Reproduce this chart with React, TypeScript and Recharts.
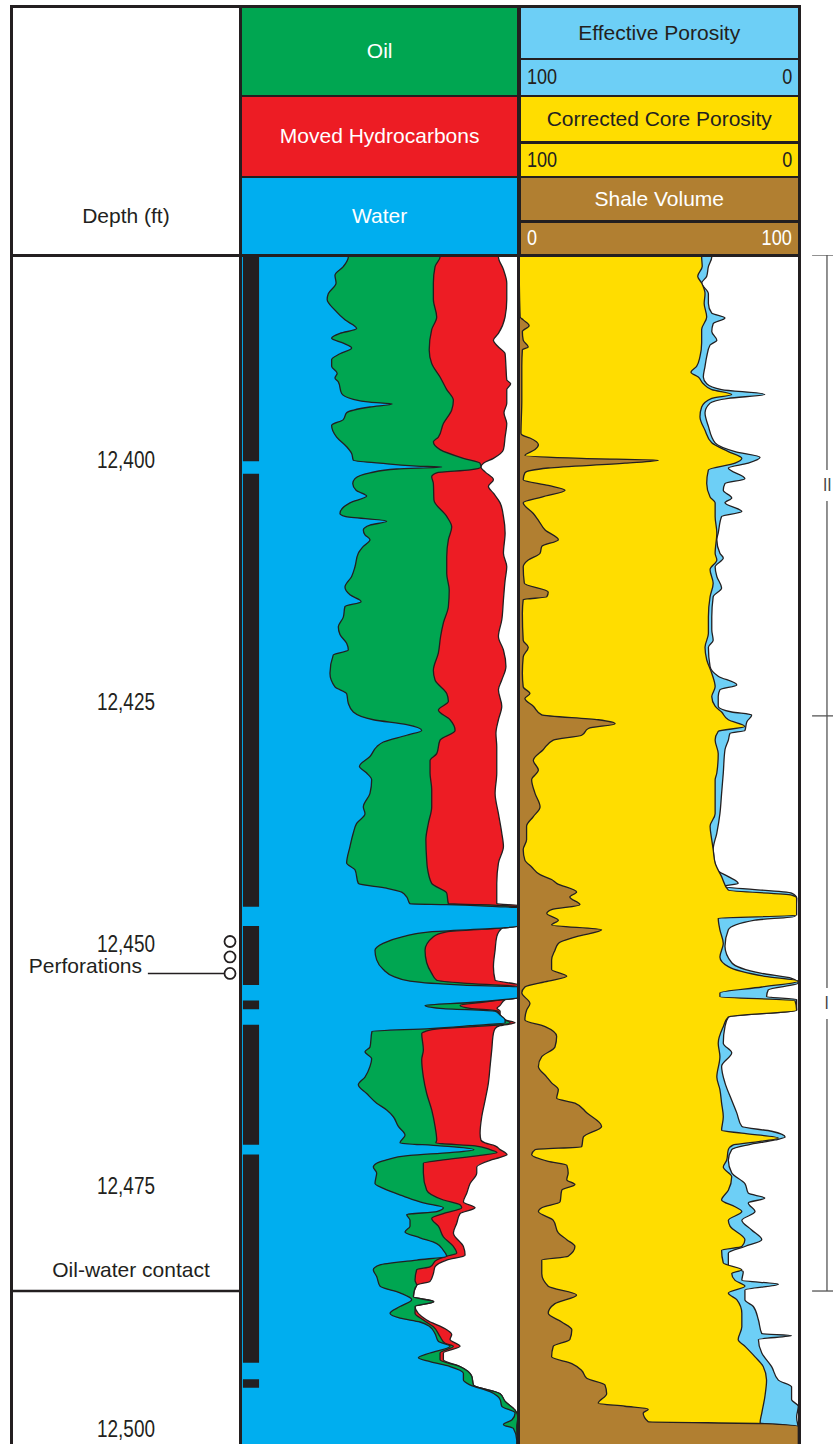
import React from 'react';
import {
  ComposedChart,
  Area,
  XAxis,
  YAxis,
  ReferenceArea,
  ReferenceLine,
  ReferenceDot,
} from 'recharts';

// depth window shown in the log (ft)
const TOP = 12378.8;
const BASE = 12501.6;
const depthTicks = [12400, 12425, 12450, 12475, 12500];

// track 1: boundaries of the fluid fills, % of track width from the left edge
// [depth, value]
const waterEdge: [number, number][] = [
  [12378.8, 38.6], [12379.0, 38.6], [12380.0, 36.8], [12380.9, 33.8], [12381.7, 34.2], [12382.8, 31.4],
  [12383.4, 31.0], [12384.5, 33.8], [12385.5, 37.4], [12386.4, 41.6], [12386.9, 35.6], [12387.4, 32.6],
  [12387.9, 36.8], [12388.4, 39.8], [12389.0, 35.6], [12389.6, 32.6], [12390.3, 32.6], [12391.0, 34.6],
  [12391.5, 33.8], [12391.9, 35.0], [12393.1, 36.2], [12393.7, 40.4], [12394.0, 46.4], [12394.2, 54.4],
  [12394.5, 46.4], [12395.1, 38.0], [12395.8, 36.8], [12396.4, 32.6], [12397.6, 34.4], [12398.6, 38.0],
  [12399.3, 39.8], [12400.0, 40.4], [12400.3, 50.0], [12400.6, 63.2], [12400.7, 72.2], [12400.9, 56.0],
  [12401.3, 46.4], [12401.9, 41.0], [12402.4, 40.2], [12403.1, 41.4], [12403.7, 45.2], [12404.4, 39.2],
  [12405.5, 35.6], [12405.8, 37.4], [12406.3, 52.4], [12406.7, 46.4], [12407.2, 44.0], [12407.7, 44.6],
  [12408.2, 46.4], [12408.9, 44.0], [12409.6, 42.2], [12411.0, 41.0], [12412.0, 39.8], [12413.1, 37.4],
  [12413.9, 39.2], [12414.6, 43.2], [12415.1, 37.4], [12416.2, 36.8], [12417.2, 35.0], [12418.0, 35.6],
  [12418.9, 38.0], [12419.6, 38.6], [12420.1, 33.2], [12422.0, 32.0], [12423.4, 33.8], [12424.1, 38.0],
  [12425.1, 38.6], [12426.0, 40.4], [12426.8, 47.6], [12427.3, 59.6], [12427.9, 65.0], [12428.4, 59.6],
  [12429.1, 51.2], [12429.6, 48.8], [12430.6, 46.4], [12431.6, 42.6], [12432.3, 45.2], [12433.0, 47.0],
  [12434.4, 46.4], [12435.8, 44.0], [12436.5, 44.6], [12437.5, 41.6], [12438.5, 40.4], [12439.9, 39.2],
  [12441.6, 38.0], [12442.3, 41.0], [12443.7, 42.2], [12444.2, 52.4], [12444.6, 57.8], [12445.1, 59.6],
  [12445.8, 60.8], [12445.9, 74.0], [12446.1, 92.0], [12446.2, 100], [12448.1, 100], [12448.3, 94.2],
  [12448.7, 68.0], [12449.2, 58.3], [12449.9, 51.1], [12450.6, 48.2], [12451.6, 48.8], [12452.6, 51.2],
  [12453.3, 54.8], [12453.8, 60.8], [12454.2, 79.9], [12454.4, 100], [12455.5, 100], [12455.7, 94.2],
  [12456.0, 82.4], [12456.3, 66.2], [12456.6, 71.6], [12456.9, 91.4], [12457.3, 93.2], [12457.8, 95.0],
  [12458.1, 95.0], [12458.4, 82.4], [12458.7, 68.0], [12459.0, 47.1], [12460.6, 46.4], [12461.1, 44.6],
  [12461.8, 47.0], [12462.6, 46.4], [12463.7, 44.6], [12464.5, 42.2], [12465.4, 45.2], [12466.4, 48.8],
  [12467.1, 52.4], [12467.8, 54.8], [12468.8, 56.6], [12469.7, 59.0], [12470.5, 57.2], [12470.8, 71.6],
  [12471.2, 83.8], [12471.5, 75.2], [12471.8, 60.8], [12472.3, 51.8], [12472.6, 48.8], [12473.0, 47.6],
  [12473.6, 48.8], [12474.7, 48.2], [12475.2, 51.2], [12476.0, 58.4], [12476.7, 65.6], [12477.2, 72.8],
  [12477.6, 70.4], [12477.9, 59.6], [12478.5, 60.8], [12479.1, 60.8], [12479.7, 59.0], [12480.3, 64.4],
  [12480.9, 70.4], [12481.6, 72.8], [12482.2, 74.0], [12482.6, 63.2], [12483.1, 50.0], [12483.6, 47.6],
  [12484.3, 48.8], [12485.3, 50.0], [12486.0, 57.2], [12486.7, 61.4], [12487.4, 57.2], [12488.1, 53.6],
  [12488.6, 57.2], [12489.0, 64.4], [12489.5, 68.0], [12490.2, 69.8], [12491.0, 71.0], [12491.5, 75.2],
  [12492.2, 68.0], [12492.7, 63.8], [12493.1, 68.0], [12493.6, 75.2], [12494.3, 80.0], [12495.0, 80.0],
  [12495.5, 82.4], [12496.2, 89.6], [12497.0, 93.2], [12497.7, 93.8], [12498.4, 98.6], [12499.1, 97.5],
  [12499.6, 94.4], [12500.0, 98.0], [12501.2, 99.2], [12501.6, 99.2],
];

const oilEdge: [number, number][] = [
  [12378.8, 71.6], [12379.0, 71.6], [12380.0, 69.8], [12381.7, 69.2], [12383.4, 69.2], [12385.2, 70.4],
  [12386.5, 68.6], [12388.6, 67.7], [12390.0, 68.6], [12391.4, 71.6], [12392.7, 74.0], [12393.8, 76.4],
  [12394.8, 75.8], [12396.2, 72.8], [12397.6, 71.0], [12398.1, 69.2], [12398.9, 71.6], [12399.8, 80.0],
  [12400.3, 86.0], [12400.7, 86.3], [12401.0, 82.4], [12401.3, 70.4], [12401.7, 68.6], [12402.4, 69.2],
  [12404.1, 69.4], [12405.8, 74.0], [12406.9, 75.8], [12408.2, 74.6], [12410.0, 74.0], [12411.7, 74.0],
  [12413.4, 74.9], [12415.1, 74.6], [12416.8, 72.8], [12418.2, 71.8], [12419.9, 71.0], [12421.7, 69.2],
  [12422.7, 69.8], [12424.1, 74.0], [12424.9, 74.6], [12425.8, 71.0], [12426.8, 75.2], [12427.9, 77.0],
  [12428.9, 71.6], [12430.3, 70.4], [12431.0, 68.0], [12432.3, 68.0], [12434.0, 68.6], [12435.8, 68.6],
  [12437.5, 67.4], [12439.2, 66.5], [12441.3, 66.8], [12442.0, 67.0], [12443.7, 68.6], [12444.7, 74.0],
  [12445.8, 74.6], [12445.9, 86.0], [12446.1, 99.2], [12446.2, 100], [12448.1, 100], [12448.3, 94.2],
  [12448.7, 74.0], [12449.2, 69.2], [12450.6, 66.2], [12451.9, 66.8], [12453.0, 68.6], [12453.7, 70.4],
  [12454.0, 80.0], [12454.3, 97.8], [12454.4, 100], [12455.5, 100], [12455.7, 94.2], [12456.0, 86.0],
  [12456.3, 78.8], [12456.6, 82.4], [12456.9, 92.4], [12457.3, 93.2], [12457.8, 95.0], [12458.1, 96.8],
  [12458.4, 89.6], [12458.7, 71.6], [12459.0, 66.2], [12459.2, 65.0], [12460.9, 65.6], [12461.9, 65.0],
  [12463.7, 65.6], [12465.4, 66.8], [12467.1, 68.6], [12468.8, 69.8], [12470.2, 70.4], [12470.5, 70.1],
  [12470.8, 84.2], [12471.2, 89.6], [12471.5, 92.1], [12471.8, 86.0], [12472.3, 71.6], [12472.6, 65.6],
  [12473.6, 65.6], [12475.4, 66.8], [12476.4, 72.8], [12476.9, 78.8], [12477.2, 79.4], [12477.8, 72.8],
  [12478.3, 68.6], [12479.1, 71.0], [12480.2, 72.8], [12481.2, 76.4], [12481.9, 77.6], [12482.2, 74.0],
  [12482.6, 70.4], [12483.3, 68.0], [12483.6, 63.2], [12484.7, 62.6], [12485.2, 63.2], [12485.5, 62.6],
  [12486.4, 62.0], [12486.9, 69.2], [12487.4, 62.6], [12488.1, 62.6], [12488.8, 65.6], [12489.5, 69.2],
  [12490.5, 71.6], [12491.2, 73.4], [12491.5, 76.4], [12492.2, 71.6], [12492.9, 71.6], [12493.6, 78.8],
  [12494.6, 83.0], [12495.5, 83.6], [12496.4, 93.2], [12497.2, 95.0], [12498.1, 98.6], [12498.8, 99.6],
  [12499.8, 99.2], [12501.2, 99.3], [12501.6, 99.3],
];

const movedEdge: [number, number][] = [
  [12378.8, 92.6], [12379.0, 92.6], [12380.3, 94.4], [12381.7, 95.6], [12383.4, 95.6], [12385.2, 95.0],
  [12386.9, 92.6], [12387.6, 90.8], [12388.3, 92.6], [12389.0, 95.0], [12390.3, 95.3], [12391.7, 95.6],
  [12392.1, 97.0], [12392.7, 95.6], [12394.1, 95.6], [12395.1, 94.6], [12396.2, 95.6], [12397.6, 95.0],
  [12398.9, 94.4], [12399.8, 90.8], [12400.3, 87.2], [12400.7, 86.3], [12401.2, 87.8], [12402.0, 90.8],
  [12402.7, 89.0], [12403.4, 90.8], [12404.4, 93.2], [12405.8, 94.4], [12407.5, 95.0], [12409.6, 94.4],
  [12411.0, 95.6], [12412.4, 95.0], [12414.4, 94.4], [12416.5, 93.8], [12418.2, 92.6], [12419.6, 94.4],
  [12421.3, 95.3], [12422.7, 93.8], [12423.7, 92.6], [12425.4, 93.8], [12426.8, 92.6], [12428.2, 91.7],
  [12429.6, 92.0], [12432.3, 92.0], [12434.4, 91.4], [12436.5, 92.6], [12438.5, 93.8], [12439.9, 94.4],
  [12441.6, 92.6], [12443.7, 92.0], [12445.8, 92.0], [12446.0, 100], [12448.1, 100], [12448.2, 94.4],
  [12449.2, 92.0], [12450.6, 91.4], [12452.3, 90.8], [12453.7, 91.4], [12454.2, 100], [12455.5, 100],
  [12455.7, 95.0], [12456.3, 93.2], [12456.6, 92.1], [12456.9, 93.2], [12457.3, 93.2], [12457.8, 95.0],
  [12458.1, 98.6], [12458.4, 93.2], [12458.7, 91.4], [12459.2, 90.8], [12460.9, 90.2], [12462.6, 89.6],
  [12464.3, 89.0], [12466.1, 87.8], [12467.8, 86.6], [12469.5, 86.0], [12470.2, 86.3], [12470.5, 87.8],
  [12470.8, 91.4], [12471.2, 93.2], [12471.5, 95.0], [12471.7, 95.7], [12472.0, 93.2], [12472.3, 89.6],
  [12473.0, 84.8], [12473.6, 84.8], [12474.7, 82.4], [12475.7, 81.2], [12476.6, 80.0], [12477.2, 84.2],
  [12477.8, 78.8], [12478.8, 77.6], [12479.8, 76.4], [12481.2, 80.0], [12482.1, 80.6], [12482.6, 74.0],
  [12483.3, 69.8], [12484.0, 69.2], [12484.8, 68.0], [12485.2, 63.2], [12486.4, 62.0], [12486.9, 69.4],
  [12487.4, 62.6], [12488.8, 66.8], [12489.8, 74.0], [12490.3, 75.8], [12490.8, 75.2], [12491.5, 78.8],
  [12492.2, 72.8], [12492.9, 72.8], [12493.6, 78.8], [12494.6, 83.0], [12495.5, 83.6], [12496.4, 93.2],
  [12497.2, 95.0], [12498.1, 98.6], [12498.8, 99.6], [12499.8, 99.2], [12501.2, 99.3], [12501.6, 99.3],
];

// track 2: shale volume (%, 0 at left) and porosities (%, 100 at left)
const shaleVolume: [number, number][] = [
  [12378.8, 0], [12385.2, 0.4], [12385.5, 1.5], [12386.1, 3.6], [12386.7, 1.2], [12387.6, 1.5],
  [12388.3, 3.3], [12388.6, 1.2], [12390.3, 1.0], [12393.8, 1.0], [12397.2, 0.7], [12397.4, 1.2],
  [12397.7, 3.9], [12398.4, 6.9], [12398.9, 5.7], [12399.5, 2.1], [12399.8, 22.3], [12400.0, 49.6],
  [12400.3, 37.7], [12400.8, 10.4], [12401.3, 2.1], [12402.0, 1.5], [12402.6, 10.4], [12403.1, 16.4],
  [12403.8, 8.1], [12404.4, 1.5], [12405.5, 5.1], [12406.2, 6.9], [12407.2, 9.3], [12408.2, 14.0],
  [12408.9, 8.1], [12409.6, 7.5], [12410.3, 3.3], [12411.0, 1.5], [12412.7, 1.9], [12413.6, 10.4],
  [12414.1, 9.9], [12414.4, 1.5], [12415.8, 1.2], [12418.6, 1.5], [12419.3, 3.3], [12420.3, 1.5],
  [12422.0, 1.2], [12423.4, 1.5], [12424.1, 3.9], [12424.6, 2.1], [12425.4, 5.1], [12426.3, 8.1],
  [12426.8, 28.2], [12427.2, 34.2], [12427.7, 24.7], [12428.4, 22.3], [12428.9, 12.2], [12429.9, 8.6],
  [12431.0, 5.1], [12432.0, 6.9], [12433.0, 4.5], [12434.4, 5.7], [12435.8, 7.5], [12436.8, 5.1],
  [12437.8, 2.7], [12439.2, 2.7], [12440.2, 1.5], [12441.3, 2.1], [12442.0, 4.5], [12442.8, 7.5],
  [12443.3, 11.6], [12443.7, 13.4], [12444.6, 20.5], [12445.1, 18.1], [12445.9, 21.7], [12446.4, 11.6],
  [12446.8, 9.9], [12447.5, 14.0], [12448.0, 11.6], [12448.5, 29.4], [12449.2, 20.5], [12449.9, 14.0],
  [12450.6, 12.8], [12451.6, 11.6], [12452.6, 11.6], [12453.3, 17.0], [12453.8, 10.4], [12454.4, 2.1],
  [12455.0, 1.0], [12456.1, 3.9], [12456.8, 2.7], [12457.8, 2.1], [12458.5, 9.3], [12459.5, 13.4],
  [12460.6, 12.8], [12461.6, 8.1], [12462.6, 6.9], [12463.7, 9.9], [12464.3, 11.6], [12465.0, 14.0],
  [12465.9, 13.4], [12466.4, 19.9], [12467.4, 24.1], [12468.8, 29.4], [12469.9, 22.9], [12470.9, 22.3],
  [12471.2, 5.7], [12471.7, 4.5], [12472.4, 10.4], [12472.8, 17.0], [12473.6, 17.5], [12474.3, 17.0],
  [12474.8, 19.9], [12475.4, 15.2], [12476.6, 14.6], [12477.2, 8.1], [12477.6, 6.9], [12478.5, 12.2],
  [12479.8, 14.0], [12480.5, 17.0], [12481.2, 19.9], [12482.2, 17.5], [12482.6, 8.1], [12484.0, 8.1],
  [12485.3, 10.4], [12486.2, 20.5], [12487.1, 12.8], [12488.1, 10.4], [12489.0, 15.2], [12489.8, 18.8],
  [12490.8, 18.1], [12491.5, 12.2], [12492.6, 11.6], [12493.3, 18.8], [12494.0, 22.3], [12494.8, 24.1],
  [12495.5, 30.6], [12496.4, 31.2], [12497.4, 28.2], [12497.7, 37.7], [12498.0, 46.0], [12498.4, 44.2],
  [12499.3, 46.0], [12499.5, 87.5], [12499.8, 99.4], [12501.6, 99.4],
];

const corePorosity: [number, number][] = [
  [12378.8, 35.0], [12379.0, 35.0], [12380.0, 34.8], [12381.0, 36.4], [12381.7, 35.0], [12382.8, 33.8],
  [12383.8, 34.1], [12385.2, 33.2], [12386.5, 35.0], [12387.9, 35.0], [12389.3, 35.6], [12390.3, 36.8],
  [12390.9, 38.8], [12391.4, 36.2], [12392.1, 34.4], [12392.7, 31.4], [12393.2, 24.3], [12393.6, 31.4],
  [12394.5, 35.0], [12395.5, 35.6], [12396.9, 33.8], [12398.2, 31.4], [12399.1, 25.5], [12399.8, 20.7],
  [12400.3, 23.1], [12401.0, 32.6], [12402.4, 33.2], [12403.8, 32.0], [12404.4, 30.2], [12405.8, 30.2],
  [12407.5, 29.6], [12409.6, 30.2], [12410.3, 29.6], [12411.3, 32.0], [12412.7, 30.9], [12414.1, 32.0],
  [12416.2, 32.6], [12417.9, 32.6], [12419.3, 33.8], [12420.6, 33.2], [12422.0, 31.4], [12423.4, 30.2],
  [12424.4, 31.4], [12425.4, 30.2], [12426.0, 27.9], [12426.8, 25.5], [12427.5, 19.6], [12428.0, 29.1],
  [12428.9, 30.2], [12430.3, 29.1], [12432.3, 29.6], [12433.0, 30.2], [12436.5, 30.2], [12437.8, 32.0],
  [12439.2, 31.4], [12440.2, 30.9], [12441.6, 30.2], [12443.0, 27.9], [12444.4, 25.5], [12444.9, 3.0],
  [12445.2, 1.2], [12447.0, 1.2], [12447.3, 29.1], [12448.5, 28.5], [12449.9, 27.3], [12451.3, 28.5],
  [12452.3, 25.5], [12453.3, 12.5], [12453.8, 0.6], [12454.4, 13.6], [12455.0, 28.5], [12455.4, 28.5],
  [12455.8, 1.8], [12456.8, 1.2], [12457.5, 25.5], [12458.5, 27.3], [12460.2, 29.1], [12461.6, 28.5],
  [12463.7, 29.6], [12465.0, 28.5], [12466.4, 27.9], [12467.8, 27.3], [12469.2, 27.9], [12469.5, 20.7],
  [12470.0, 7.7], [12470.5, 18.4], [12470.7, 23.7], [12471.2, 25.5], [12472.3, 26.1], [12473.0, 27.3],
  [12474.0, 24.3], [12475.4, 25.5], [12476.4, 27.9], [12477.1, 23.1], [12477.6, 20.7], [12478.5, 25.5],
  [12479.1, 24.9], [12480.5, 19.6], [12481.2, 20.7], [12481.6, 27.9], [12482.9, 27.3], [12483.6, 20.7],
  [12484.0, 24.3], [12484.7, 23.1], [12485.3, 19.6], [12486.0, 25.5], [12486.7, 22.5], [12488.1, 20.7],
  [12489.5, 20.7], [12490.8, 22.0], [12491.5, 19.6], [12492.6, 16.0], [12493.6, 13.1], [12495.0, 11.9],
  [12496.7, 12.5], [12498.4, 13.6], [12499.4, 14.2], [12499.8, 0.7], [12501.6, 0.7],
];

const effPorosity: [number, number][] = [
  [12378.8, 31.4], [12379.0, 31.4], [12380.0, 32.6], [12381.0, 33.2], [12381.7, 35.0], [12382.8, 32.6],
  [12383.8, 32.6], [12384.8, 31.4], [12385.3, 26.7], [12385.9, 30.9], [12386.7, 31.4], [12387.6, 29.6],
  [12388.1, 32.0], [12389.3, 33.2], [12390.3, 33.8], [12391.4, 34.4], [12392.1, 33.2], [12392.7, 27.9],
  [12393.2, 12.5], [12393.6, 25.5], [12394.1, 32.0], [12395.1, 33.8], [12396.5, 32.6], [12398.2, 30.2],
  [12399.1, 23.1], [12399.7, 14.2], [12400.3, 18.4], [12400.8, 25.5], [12401.9, 19.6], [12402.4, 26.7],
  [12403.1, 27.3], [12403.9, 24.3], [12404.4, 26.7], [12405.3, 20.7], [12405.8, 27.9], [12407.5, 29.1],
  [12408.2, 29.6], [12409.6, 28.5], [12410.1, 27.3], [12411.0, 30.2], [12412.0, 29.6], [12413.2, 27.9],
  [12414.1, 30.9], [12416.2, 31.4], [12417.5, 31.4], [12418.6, 30.9], [12419.3, 32.6], [12421.3, 32.0],
  [12422.3, 29.1], [12423.2, 22.5], [12423.7, 28.5], [12424.4, 29.1], [12425.4, 29.1], [12426.0, 24.3],
  [12426.3, 17.2], [12427.0, 18.9], [12427.9, 19.6], [12428.2, 24.9], [12428.9, 25.5], [12429.9, 26.7],
  [12432.3, 27.3], [12434.4, 27.9], [12436.5, 28.5], [12438.5, 29.6], [12440.2, 30.9], [12442.3, 29.6],
  [12443.0, 25.5], [12443.7, 22.0], [12444.0, 27.3], [12444.7, 3.0], [12445.2, 1.2], [12447.1, 1.8],
  [12447.5, 16.0], [12448.5, 25.5], [12450.2, 26.7], [12451.9, 24.3], [12453.0, 13.6], [12453.5, 3.0],
  [12454.0, 0.6], [12454.7, 11.3], [12455.4, 11.9], [12455.7, 1.2], [12456.8, 1.2], [12457.5, 25.5],
  [12458.5, 26.7], [12460.2, 27.3], [12461.2, 24.3], [12462.6, 27.9], [12464.3, 26.7], [12466.1, 24.3],
  [12467.4, 22.5], [12468.8, 20.7], [12469.3, 10.1], [12469.9, 5.3], [12470.2, 8.9], [12470.7, 18.4],
  [12471.2, 24.3], [12472.3, 25.5], [12473.6, 24.3], [12474.7, 19.6], [12475.7, 18.4], [12476.2, 12.5],
  [12476.7, 18.4], [12477.6, 16.0], [12478.5, 20.7], [12479.5, 17.2], [12480.5, 13.6], [12481.2, 19.6],
  [12481.9, 25.5], [12483.3, 25.5], [12483.8, 20.2], [12484.7, 20.7], [12485.1, 7.7], [12485.7, 19.6],
  [12486.7, 19.6], [12487.4, 16.6], [12488.8, 14.8], [12490.2, 13.6], [12490.4, 3.0], [12490.8, 14.8],
  [12492.2, 13.6], [12493.6, 10.1], [12495.0, 7.7], [12495.7, 3.0], [12497.0, 3.0], [12497.7, 0.6],
  [12498.8, 1.2], [12500.1, 0.6], [12501.6, 0.6],
];

// cored intervals (black column), [top, bottom]
const coreIntervals: [number, number][] = [
  [12378.8, 12400.1], [12401.4, 12446.1], [12448.1, 12454.2], [12455.8, 12456.7],
  [12458.3, 12470.7], [12471.7, 12493.2], [12494.9, 12495.8],
];
const perforations = [12449.7, 12451.3, 12453.0];
const oilWaterContact = 12485.8;
const zoneBounds = [12378.8, 12426.4, 12485.8];
const zoneNames = ['II', 'I'];

const INK = '#231f20';
const GREEN = '#00a651';
const RED = '#ed1c24';
const WATER = '#00aeef';
const LIGHT_BLUE = '#6dcff6';
const YELLOW = '#ffdd00';
const BROWN = '#b17f31';
const SANS = "'Liberation Sans', Arial, sans-serif";

const PLOT_TOP = 255;
const PLOT_H = 1189;
const yOf = (d: number) => PLOT_TOP + ((d - TOP) / (BASE - TOP)) * PLOT_H;
const rows = (pts: [number, number][]) => pts.map(([d, v]) => ({ d, v }));

// depth labels are set in a condensed face; squeeze the regular one to match
const DepthTick = (props: any) => {
  const { x, y, payload } = props;
  return (
    <text
      x={x - 115}
      y={y}
      textAnchor="middle"
      dominantBaseline="central"
      fontFamily={SANS}
      fontSize={23}
      fill={INK}
      textLength={58}
      lengthAdjust="spacingAndGlyphs"
    >
      {Number(payload.value).toLocaleString('en-US')}
    </text>
  );
};

const box = (left: number, top: number, width: number, height: number): React.CSSProperties => ({
  position: 'absolute',
  left,
  top,
  width,
  height,
});

const HeadCell = ({ l, t, w, h, bg, color, children }: any) => (
  <div
    style={{
      ...box(l, t, w, h),
      background: bg,
      color,
      display: 'flex',
      alignItems: 'center',
      justifyContent: 'center',
      fontFamily: SANS,
      fontSize: 21,
    }}
  >
    {children}
  </div>
);

const narrow: React.CSSProperties = { display: 'inline-block', transform: 'scaleX(0.82)' };

const ScaleCell = ({ t, h, bg, color, left, right }: any) => (
  <div
    style={{
      ...box(520.5, t, 277.5, h),
      background: bg,
      color,
      display: 'flex',
      alignItems: 'center',
      justifyContent: 'space-between',
      padding: '0 6px',
      boxSizing: 'border-box',
      fontFamily: SANS,
      fontSize: 22,
    }}
  >
    <span style={{ ...narrow, transformOrigin: 'left center' }}>{left}</span>
    <span style={{ ...narrow, transformOrigin: 'right center' }}>{right}</span>
  </div>
);

const areaProps = {
  type: 'monotone' as const,
  dataKey: 'v',
  stroke: INK,
  strokeWidth: 1.3,
  fillOpacity: 1,
  dot: false,
  activeDot: false,
  isAnimationActive: false,
};

export default function App() {
  return (
    <div style={{ position: 'relative', width: 833, height: 1444, overflow: 'hidden', background: '#fff' }}>
      <style>{'body{margin:0;}'}</style>

      {/* header */}
      <div style={{ ...box(10, 5, 791, 251.5), background: INK }} />
      <HeadCell l={12.8} t={7.5} w={226.2} h={246} bg="#fff" color={INK}>
        <span style={{ position: 'absolute', top: 196 }}>Depth (ft)</span>
      </HeadCell>
      <HeadCell l={242} t={7.5} w={275.3} h={87} bg={GREEN} color="#fff">Oil</HeadCell>
      <HeadCell l={242} t={97} w={275.3} h={78.5} bg={RED} color="#fff">Moved Hydrocarbons</HeadCell>
      <HeadCell l={242} t={178} w={275.3} h={75.5} bg={WATER} color="#fff">Water</HeadCell>
      <HeadCell l={520.5} t={7.5} w={277.5} h={50} bg={LIGHT_BLUE} color={INK}>Effective Porosity</HeadCell>
      <ScaleCell t={60} h={34.5} bg={LIGHT_BLUE} color={INK} left="100" right="0" />
      <HeadCell l={520.5} t={97} w={277.5} h={44} bg={YELLOW} color={INK}>Corrected Core Porosity</HeadCell>
      <ScaleCell t={143.5} h={32} bg={YELLOW} color={INK} left="100" right="0" />
      <HeadCell l={520.5} t={178} w={277.5} h={42} bg={BROWN} color="#fff">Shale Volume</HeadCell>
      <ScaleCell t={222.5} h={31} bg={BROWN} color="#fff" left="0" right="100" />

      {/* depth column + fluid track */}
      <div style={{ position: 'absolute', left: 10, top: PLOT_TOP }}>
        <ComposedChart layout="vertical" width={509} height={PLOT_H} margin={{ top: 0, right: 0, bottom: 0, left: 0 }}>
          <XAxis type="number" domain={[0, 100]} allowDataOverflow hide />
          <YAxis
            type="number"
            dataKey="d"
            domain={[TOP, BASE]}
            allowDataOverflow
            ticks={depthTicks}
            interval={0}
            width={231}
            axisLine={false}
            tickLine={false}
            tickSize={0}
            tickMargin={0}
            tick={(p: any) => <DepthTick {...p} />}
          />
          <Area {...areaProps} data={rows(movedEdge)} fill={RED} />
          <Area {...areaProps} data={rows(oilEdge)} fill={GREEN} />
          <Area {...areaProps} data={rows(waterEdge)} fill={WATER} />
          {coreIntervals.map(([a, b]) => (
            <ReferenceArea key={a} x1={0.7} x2={6.5} y1={a} y2={b} fill={INK} fillOpacity={1} stroke="none" />
          ))}
          <ReferenceLine
            segment={[{ x: -83.1, y: oilWaterContact }, { x: 0, y: oilWaterContact }]}
            stroke={INK}
            strokeWidth={2.5}
            ifOverflow="visible"
          />
          <ReferenceLine
            segment={[{ x: -33.5, y: perforations[2] }, { x: -5.9, y: perforations[2] }]}
            stroke={INK}
            strokeWidth={1.5}
            ifOverflow="visible"
          />
          {perforations.map((d) => (
            <ReferenceDot key={d} x={-3.96} y={d} r={5.5} fill="#fff" stroke={INK} strokeWidth={1.8} ifOverflow="visible" />
          ))}
        </ComposedChart>
      </div>

      {/* porosity / shale track + zones */}
      <div style={{ position: 'absolute', left: 519, top: PLOT_TOP }}>
        <ComposedChart layout="vertical" width={314} height={PLOT_H} margin={{ top: 0, right: 33, bottom: 0, left: 0 }}>
          <XAxis xAxisId="vsh" type="number" domain={[0, 100]} allowDataOverflow hide />
          <XAxis xAxisId="phi" type="number" domain={[0, 100]} reversed allowDataOverflow hide />
          <YAxis type="number" dataKey="d" domain={[TOP, BASE]} allowDataOverflow hide />
          <Area {...areaProps} xAxisId="phi" baseValue={100} data={rows(effPorosity)} fill={LIGHT_BLUE} />
          <Area {...areaProps} xAxisId="phi" baseValue={100} data={rows(corePorosity)} fill={YELLOW} />
          <Area {...areaProps} xAxisId="vsh" data={rows(shaleVolume)} fill={BROWN} />
          {zoneBounds.map((d) => (
            <ReferenceLine
              key={d}
              xAxisId="vsh"
              segment={[{ x: 104.3, y: d }, { x: 112, y: d }]}
              stroke="#555"
              strokeWidth={1.3}
              ifOverflow="visible"
            />
          ))}
          {zoneNames.map((_, i) => {
            const mid = (zoneBounds[i] + zoneBounds[i + 1]) / 2;
            return (
              <React.Fragment key={i}>
                <ReferenceLine
                  xAxisId="vsh"
                  segment={[{ x: 109.6, y: zoneBounds[i] }, { x: 109.6, y: mid - 1.6 }]}
                  stroke="#555"
                  strokeWidth={1.3}
                  ifOverflow="visible"
                />
                <ReferenceLine
                  xAxisId="vsh"
                  segment={[{ x: 109.6, y: mid + 1.6 }, { x: 109.6, y: zoneBounds[i + 1] }]}
                  stroke="#555"
                  strokeWidth={1.3}
                  ifOverflow="visible"
                />
              </React.Fragment>
            );
          })}
        </ComposedChart>
      </div>

      {/* frame */}
      <div style={{ ...box(10, 253.5, 791, 3), background: INK }} />
      <div style={{ ...box(10, 5, 2.8, 1439), background: INK }} />
      <div style={{ ...box(239.2, 5, 2.8, 1439), background: INK }} />
      <div style={{ ...box(517.3, 5, 3.2, 1439), background: INK }} />
      <div style={{ ...box(798, 5, 3, 1439), background: INK }} />

      {/* annotations */}
      <div style={{ ...box(0, yOf(perforations[1]) - 4, 142, 26), textAlign: 'right', fontFamily: SANS, fontSize: 21, color: INK, lineHeight: '26px' }}>
        Perforations
      </div>
      <div style={{ ...box(12, yOf(oilWaterContact) - 34, 238, 26), textAlign: 'center', fontFamily: SANS, fontSize: 21, color: INK, lineHeight: '26px' }}>
        Oil-water contact
      </div>
      {zoneNames.map((z, i) => (
        <div
          key={z}
          style={{
            ...box(812, yOf((zoneBounds[i] + zoneBounds[i + 1]) / 2) - 12, 30, 24),
            textAlign: 'center',
            fontFamily: SANS,
            fontSize: 19,
            color: '#444',
            lineHeight: '24px',
          }}
        >
          <span style={{ ...narrow }}>{z}</span>
        </div>
      ))}
    </div>
  );
}
